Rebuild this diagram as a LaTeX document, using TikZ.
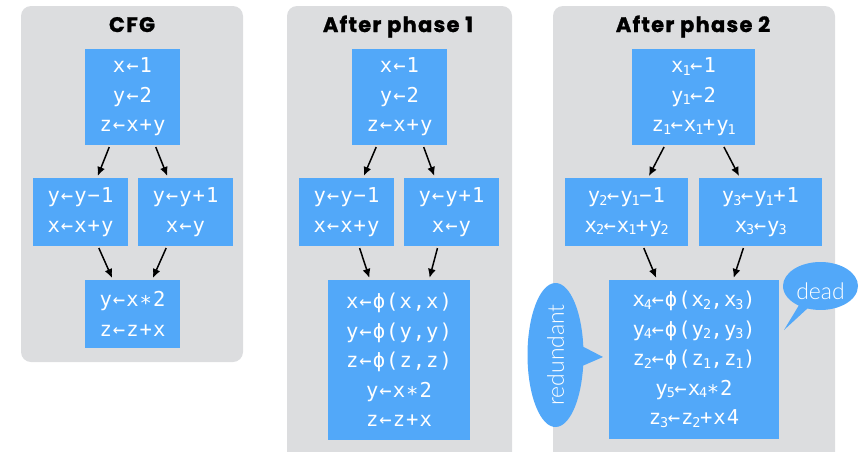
\documentclass[tikz,border=0pt]{standalone}
\usepackage{fontspec}
\usetikzlibrary{arrows.meta,shapes.callouts}

\newfontfamily\codefont{DejaVu Sans Mono}[LetterSpace=5]
\newfontfamily\titlefont{Poppins}[LetterSpace=6,BoldFeatures={FakeBold=1.2}]
\newfontfamily\notefont{Lato Light}

% subscript digit, kept narrow
\newcommand*{\sub}[1]{\kern-1pt\raisebox{-2.5pt}{\fontsize{13.5}{13.5}\selectfont #1}\kern-0.5pt}

\definecolor{panelgray}{HTML}{DCDDDF}
\definecolor{blockblue}{HTML}{52A8F9}

\tikzset{
	panel/.style={fill=panelgray,rounded corners=10pt},
	block/.style={fill=blockblue,text=white,inner sep=0pt,align=center,
		font=\codefont\fontsize{20.5}{29.5}\selectfont,
		execute at begin node={\rule{0pt}{25pt}}},
	flow/.style={-{Latex[length=9pt,width=8pt]},line width=1.5pt,shorten <=2pt,shorten >=2pt},
	paneltitle/.style={anchor=base,font=\titlefont\bfseries\fontsize{21}{24}\selectfont},
	note/.style={ellipse callout,fill=blockblue,text=white,inner sep=0pt,
		font=\notefont\fontsize{23}{26}\selectfont}
}

\begin{document}
\begin{tikzpicture}[x=1pt,y=-1pt]
	\useasboundingbox (0,0) rectangle (868,451);
	\clip (0,0) rectangle (868,451);
	
	% gray panels
	\fill[panel] (21,6) rectangle (243,362);
	\fill[panel] (287,6) rectangle (512,462);
	\fill[panel] (553,6) rectangle (835,462);
	
	% titles
	\node[paneltitle] (cfgtitle) at (132,32) {CFG};
	\node[paneltitle] (onetitle) at (398,32) {After phase 1};
	\node[paneltitle] (twotitle) at (693,32) {After phase 2};
	
	% panel CFG
	\node[block,minimum width=95pt,minimum height=96pt] (cfgtop) at (132.5,97) {x←1\\y←2\\z←x+y};
	\node[block,minimum width=95pt,minimum height=68pt] (cfgleft) at (80.5,212) {y←y−1\\x←x+y};
	\node[block,minimum width=95pt,minimum height=68pt] (cfgright) at (185.5,212) {y←y+1\\x←y};
	\node[block,minimum width=95pt,minimum height=68pt] (cfgjoin) at (132.5,314) {y←x∗2\\z←z+x};
	
	\draw[flow] ([xshift=-22.5pt]cfgtop.south) -- ([xshift=16.5pt]cfgleft.north);
	\draw[flow] ([xshift=22.5pt]cfgtop.south) -- ([xshift=-17.5pt]cfgright.north);
	\draw[flow] ([xshift=17.5pt]cfgleft.south) -- ([xshift=-19.5pt]cfgjoin.north);
	\draw[flow] ([xshift=-18.5pt]cfgright.south) -- ([xshift=19.5pt]cfgjoin.north);
	
	% panel after phase 1
	\node[block,minimum width=95pt,minimum height=96pt] (onetop) at (399.5,97) {x←1\\y←2\\z←x+y};
	\node[block,minimum width=95pt,minimum height=68pt] (oneleft) at (346.5,212) {y←y−1\\x←x+y};
	\node[block,minimum width=95pt,minimum height=68pt] (oneright) at (451.5,212) {y←y+1\\x←y};
	\node[block,minimum width=142pt,minimum height=160pt] (onejoin) at (399,360) {x←ϕ(x,x)\\y←ϕ(y,y)\\z←ϕ(z,z)\\y←x∗2\\z←z+x};
	
	\draw[flow] ([xshift=-22.5pt]onetop.south) -- ([xshift=16.5pt]oneleft.north);
	\draw[flow] ([xshift=23.5pt]onetop.south) -- ([xshift=-16.5pt]oneright.north);
	\draw[flow] ([xshift=12.5pt]oneleft.south) -- ([xshift=-29pt]onejoin.north);
	\draw[flow] ([xshift=-13.5pt]oneright.south) -- ([xshift=30pt]onejoin.north);
	
	% panel after phase 2
	\node[block,minimum width=123pt,minimum height=96pt] (twotop) at (693.5,97) {x\sub{1}←1\\y\sub{1}←2\\z\sub{1}←x\sub{1}+y\sub{1}};
	\node[block,minimum width=123pt,minimum height=68pt] (twoleft) at (626.5,212) {y\sub{2}←y\sub{1}−1\\x\sub{2}←x\sub{1}+y\sub{2}};
	\node[block,minimum width=123pt,minimum height=68pt] (tworight) at (760.5,212) {y\sub{3}←y\sub{1}+1\\x\sub{3}←y\sub{3}};
	\node[block,minimum width=170pt,minimum height=159pt] (twojoin) at (694,359.5) {x\sub{4}←ϕ(x\sub{2},x\sub{3})\\y\sub{4}←ϕ(y\sub{2},y\sub{3})\\z\sub{2}←ϕ(z\sub{1},z\sub{1})\\y\sub{5}←x\sub{4}∗2\\z\sub{3}←z\sub{2}+x4};
	
	\draw[flow] ([xshift=-28.5pt]twotop.south) -- ([xshift=21.5pt]twoleft.north);
	\draw[flow] ([xshift=29.5pt]twotop.south) -- ([xshift=-20.5pt]tworight.north);
	\draw[flow] ([xshift=16.5pt]twoleft.south) -- ([xshift=-37pt]twojoin.north);
	\draw[flow] ([xshift=-16.5pt]tworight.south) -- ([xshift=39pt]twojoin.north);
	
	% callouts
	\coordinate (deadtip) at (784,330);
	\coordinate (redtip) at (603,357);
	\node[note,minimum width=75pt,minimum height=48pt,text height=26pt,text depth=0pt,callout absolute pointer={(deadtip)}] (dead) at (820.5,286) {dead};
	\node[note,minimum width=56pt,minimum height=144pt,callout absolute pointer={(redtip)}] (redundant) at (555.5,355) {\rotatebox{90}{\makebox[80pt]{redundant}}};
	
\end{tikzpicture}
\end{document}
